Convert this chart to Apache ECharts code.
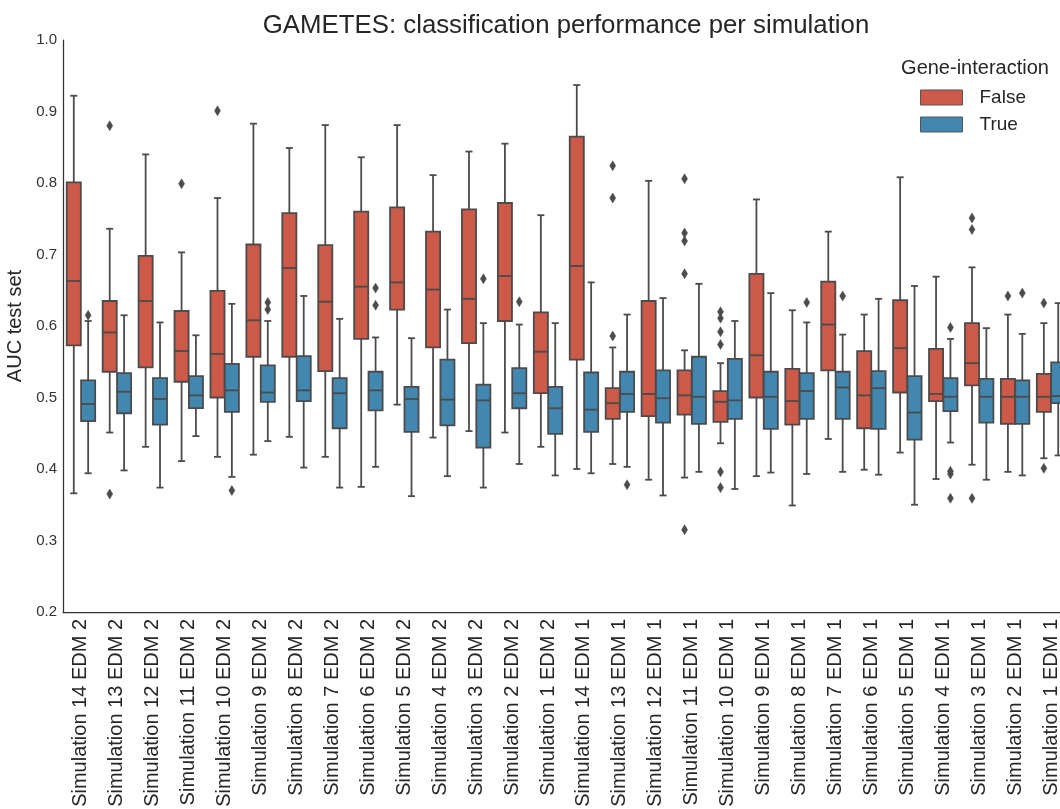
<!DOCTYPE html>
<html>
<head>
<meta charset="utf-8">
<script src="https://cdn.jsdelivr.net/npm/echarts@6/dist/echarts.min.js"></script>
<style>
html,body{margin:0;padding:0;background:#fff;}
#chart{width:1060px;height:809px;}
</style>
</head>
<body>
<div id="chart"></div>
<script>
const categories = [
  'Simulation 14 EDM 2','Simulation 13 EDM 2','Simulation 12 EDM 2','Simulation 11 EDM 2',
  'Simulation 10 EDM 2','Simulation 9 EDM 2','Simulation 8 EDM 2','Simulation 7 EDM 2',
  'Simulation 6 EDM 2','Simulation 5 EDM 2','Simulation 4 EDM 2','Simulation 3 EDM 2',
  'Simulation 2 EDM 2','Simulation 1 EDM 2','Simulation 14 EDM 1','Simulation 13 EDM 1',
  'Simulation 12 EDM 1','Simulation 11 EDM 1','Simulation 10 EDM 1','Simulation 9 EDM 1',
  'Simulation 8 EDM 1','Simulation 7 EDM 1','Simulation 6 EDM 1','Simulation 5 EDM 1',
  'Simulation 4 EDM 1','Simulation 3 EDM 1','Simulation 2 EDM 1','Simulation 1 EDM 1'
];

// [lower whisker, Q1, median, Q3, upper whisker]
const falseStats = [
  [0.366, 0.573, 0.663, 0.801, 0.922],
  [0.451, 0.536, 0.591, 0.635, 0.736],
  [0.431, 0.542, 0.635, 0.698, 0.840],
  [0.411, 0.522, 0.565, 0.621, 0.703],
  [0.417, 0.500, 0.561, 0.649, 0.779],
  [0.420, 0.557, 0.608, 0.714, 0.883],
  [0.445, 0.557, 0.681, 0.758, 0.849],
  [0.417, 0.537, 0.634, 0.713, 0.881],
  [0.375, 0.582, 0.655, 0.760, 0.836],
  [0.490, 0.623, 0.661, 0.766, 0.881],
  [0.444, 0.570, 0.651, 0.732, 0.811],
  [0.453, 0.576, 0.638, 0.763, 0.844],
  [0.451, 0.607, 0.670, 0.772, 0.855],
  [0.431, 0.506, 0.564, 0.619, 0.755],
  [0.400, 0.553, 0.684, 0.865, 0.937],
  [0.407, 0.470, 0.492, 0.513, 0.570],
  [0.385, 0.474, 0.505, 0.635, 0.803],
  [0.388, 0.476, 0.503, 0.538, 0.566],
  [0.436, 0.466, 0.494, 0.509, 0.548],
  [0.390, 0.500, 0.559, 0.673, 0.777],
  [0.349, 0.462, 0.495, 0.540, 0.622],
  [0.442, 0.538, 0.602, 0.662, 0.732],
  [0.399, 0.457, 0.503, 0.565, 0.616],
  [0.423, 0.507, 0.569, 0.636, 0.808],
  [0.386, 0.495, 0.505, 0.568, 0.669],
  [0.406, 0.517, 0.548, 0.604, 0.682],
  [0.396, 0.463, 0.501, 0.526, 0.616],
  [0.415, 0.480, 0.501, 0.533, 0.604]
];

const trueStats = [
  [0.394, 0.467, 0.491, 0.524, 0.607],
  [0.398, 0.478, 0.508, 0.534, 0.615],
  [0.374, 0.462, 0.498, 0.527, 0.605],
  [0.446, 0.485, 0.503, 0.530, 0.587],
  [0.389, 0.480, 0.510, 0.547, 0.631],
  [0.439, 0.494, 0.507, 0.545, 0.607],
  [0.402, 0.495, 0.510, 0.558, 0.642],
  [0.374, 0.457, 0.506, 0.527, 0.610],
  [0.403, 0.482, 0.510, 0.536, 0.584],
  [0.362, 0.452, 0.498, 0.515, 0.583],
  [0.390, 0.461, 0.497, 0.553, 0.623],
  [0.374, 0.430, 0.496, 0.518, 0.604],
  [0.407, 0.485, 0.506, 0.541, 0.602],
  [0.391, 0.449, 0.485, 0.515, 0.604],
  [0.394, 0.452, 0.483, 0.535, 0.661],
  [0.403, 0.480, 0.505, 0.536, 0.616],
  [0.363, 0.465, 0.499, 0.538, 0.639],
  [0.396, 0.463, 0.501, 0.557, 0.659],
  [0.372, 0.470, 0.496, 0.554, 0.607],
  [0.395, 0.456, 0.501, 0.536, 0.646],
  [0.393, 0.470, 0.509, 0.534, 0.605],
  [0.396, 0.470, 0.514, 0.536, 0.588],
  [0.392, 0.456, 0.513, 0.537, 0.638],
  [0.350, 0.441, 0.479, 0.530, 0.656],
  [0.437, 0.481, 0.501, 0.527, 0.582],
  [0.385, 0.465, 0.501, 0.526, 0.597],
  [0.391, 0.463, 0.501, 0.524, 0.589],
  [0.419, 0.492, 0.502, 0.549, 0.632]
];

// [category index, value]
const falseOutliers = [
  [1, 0.880], [1, 0.365], [3, 0.799], [4, 0.901],
  [15, 0.824], [15, 0.779], [15, 0.586],
  [17, 0.806], [17, 0.730], [17, 0.719], [17, 0.673], [17, 0.315],
  [18, 0.620], [18, 0.611], [18, 0.592], [18, 0.574], [18, 0.396], [18, 0.374],
  [25, 0.751], [25, 0.735], [25, 0.359],
  [26, 0.642], [27, 0.632], [27, 0.401]
];
const trueOutliers = [
  [0, 0.615], [4, 0.370], [5, 0.633], [5, 0.623], [8, 0.653], [8, 0.629],
  [11, 0.666], [12, 0.634], [15, 0.378], [20, 0.633], [21, 0.642],
  [24, 0.598], [24, 0.397], [24, 0.393], [24, 0.359], [26, 0.646]
];

const yTicks = { min: 0.2, max: 1.0, interval: 0.1 };
const groups = ['False', 'True'];
const groupColors = ['#cd5949', '#4287b0'];
const LINE = '#4b4b4b';
const FONT = "'Liberation Sans', Arial, sans-serif";

function boxRenderer(side, fill) {
  return function (params, api) {
    const idx = api.value(0);
    const bw = api.size([1, 0])[0];
    const cx = api.coord([idx, 0])[0] + side * bw * 0.2;
    const half = bw * 0.392 / 2;
    const capHalf = bw * 0.098;
    const yLo = api.coord([idx, api.value(1)])[1];
    const yQ1 = api.coord([idx, api.value(2)])[1];
    const yMed = api.coord([idx, api.value(3)])[1];
    const yQ3 = api.coord([idx, api.value(4)])[1];
    const yHi = api.coord([idx, api.value(5)])[1];
    const ls = { stroke: LINE, lineWidth: 1.8 };
    return {
      type: 'group',
      children: [
        { type: 'line', shape: { x1: cx, y1: yQ1, x2: cx, y2: yLo }, style: ls },
        { type: 'line', shape: { x1: cx, y1: yQ3, x2: cx, y2: yHi }, style: ls },
        { type: 'line', shape: { x1: cx - capHalf, y1: yLo, x2: cx + capHalf, y2: yLo }, style: ls },
        { type: 'line', shape: { x1: cx - capHalf, y1: yHi, x2: cx + capHalf, y2: yHi }, style: ls },
        { type: 'rect', shape: { x: cx - half, y: yQ3, width: half * 2, height: yQ1 - yQ3 },
          style: { fill: fill, stroke: LINE, lineWidth: 1.8 } },
        { type: 'line', shape: { x1: cx - half, y1: yMed, x2: cx + half, y2: yMed }, style: ls }
      ]
    };
  };
}

function outlierRenderer(side) {
  return function (params, api) {
    const idx = api.value(0);
    const bw = api.size([1, 0])[0];
    const p = api.coord([idx, api.value(1)]);
    const cx = p[0] + side * bw * 0.2;
    const cy = p[1];
    return {
      type: 'polygon',
      shape: { points: [[cx, cy - 5], [cx + 3, cy], [cx, cy + 5], [cx - 3, cy]] },
      style: { fill: LINE, stroke: LINE, lineWidth: 0.5 }
    };
  };
}

const chart = echarts.init(document.getElementById('chart'), null, { renderer: 'canvas' });

const option = {
  animation: false,
  backgroundColor: '#ffffff',
  textStyle: { fontFamily: FONT },
  title: [
    {
      text: 'GAMETES: classification performance per simulation',
      left: 566, top: 13, textAlign: 'center', padding: 0,
      textStyle: { fontFamily: FONT, fontSize: 25.8, fontWeight: 'normal', color: '#262626' }
    },
    {
      text: 'Gene-interaction',
      left: 975, top: 58, textAlign: 'center', padding: 0,
      textStyle: { fontFamily: FONT, fontSize: 20, fontWeight: 'normal', color: '#262626' }
    }
  ],
  legend: {
    data: groups,
    orient: 'vertical',
    left: 920, top: 88,
    padding: 0,
    icon: 'rect',
    itemWidth: 42, itemHeight: 15, itemGap: 8,
    itemStyle: { borderColor: '#555555', borderWidth: 1 },
    textStyle: { fontFamily: FONT, fontSize: 19, color: '#262626', padding: [0, 0, 0, 12] },
    selectedMode: false
  },
  grid: { left: 63, top: 40, height: 572, width: 1006, containLabel: false, outerBoundsMode: 'none' },
  xAxis: {
    type: 'category',
    data: categories,
    boundaryGap: true,
    axisLine: { show: true, lineStyle: { color: '#333333', width: 1.25 } },
    axisTick: { show: false },
    axisLabel: { interval: 0, rotate: 90, fontSize: 20, color: '#262626', margin: 7, fontFamily: FONT },
    splitLine: { show: false }
  },
  yAxis: {
    type: 'value',
    min: yTicks.min, max: yTicks.max, interval: yTicks.interval,
    name: 'AUC test set',
    nameLocation: 'middle',
    nameGap: 30,
    nameTextStyle: { fontSize: 20, color: '#262626', fontFamily: FONT },
    axisLine: { show: true, lineStyle: { color: '#333333', width: 1.25 } },
    axisTick: { show: false },
    axisLabel: { fontSize: 15, color: '#333333', margin: 6, fontFamily: FONT,
      formatter: function (v) { return v.toFixed(1); } },
    splitLine: { show: false }
  },
  series: [
    {
      name: 'False', type: 'custom',
      itemStyle: { color: groupColors[0] },
      renderItem: boxRenderer(-1, groupColors[0]),
      encode: { x: 0, y: [1, 2, 3, 4, 5] },
      data: falseStats.map(function (s, i) { return [i].concat(s); }),
      z: 2
    },
    {
      name: 'True', type: 'custom',
      itemStyle: { color: groupColors[1] },
      renderItem: boxRenderer(1, groupColors[1]),
      encode: { x: 0, y: [1, 2, 3, 4, 5] },
      data: trueStats.map(function (s, i) { return [i].concat(s); }),
      z: 2
    },
    {
      name: 'False outliers', type: 'custom',
      renderItem: outlierRenderer(-1),
      encode: { x: 0, y: 1 },
      data: falseOutliers,
      z: 3
    },
    {
      name: 'True outliers', type: 'custom',
      renderItem: outlierRenderer(1),
      encode: { x: 0, y: 1 },
      data: trueOutliers,
      z: 3
    }
  ]
};

chart.setOption(option);
</script>
</body>
</html>
